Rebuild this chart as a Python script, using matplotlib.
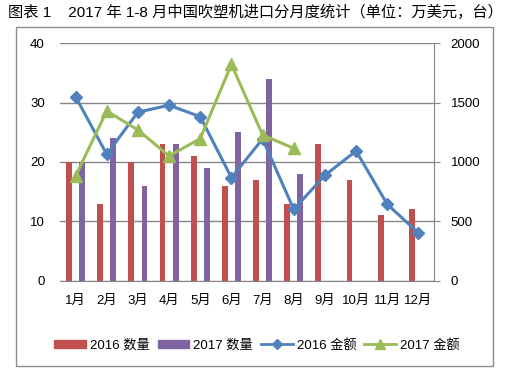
import matplotlib
matplotlib.use("Agg")
import matplotlib.pyplot as plt
from matplotlib.patches import Patch, Rectangle
from matplotlib.lines import Line2D
import numpy as np

plt.rcParams['font.family'] = ['Liberation Sans', 'Noto Sans CJK SC', 'DejaVu Sans']

months = ['1月', '2月', '3月', '4月', '5月', '6月', '7月', '8月', '9月', '10月', '11月', '12月']
qty_2016 = [20, 13, 20, 23, 21, 16, 17, 13, 23, 17, 11, 12]
qty_2017 = [20, 24, 16, 23, 19, 25, 34, 18]
amt_2016 = [1550, 1065, 1420, 1478, 1382, 868, 1194, 601, 888, 1093, 644, 402]
amt_2017 = [882, 1430, 1270, 1051, 1197, 1823, 1228, 1115]

title = '图表 1    2017 年 1-8 月中国吹塑机进口分月度统计（单位：万美元，台）'

C_RED = '#C0504D'
C_PUR = '#8064A2'
C_BLU = '#4F81BD'
C_GRN = '#9BBB59'
C_GRID = '#868686'

fig = plt.figure(figsize=(5.09, 3.75), dpi=100)
ax = fig.add_axes([60/509, 1-280.7/375, (434-60)/509, (280.7-43.3)/375])

x = np.arange(len(months))
bw = 0.19
off = 0.21
ax.bar(x - off, qty_2016, width=bw, color=C_RED, zorder=2)
ax.bar(np.arange(len(qty_2017)) + off, qty_2017, width=bw, color=C_PUR, zorder=2)
ax.set_ylim(0, 40)
ax.set_yticks([0, 10, 20, 30, 40])
ax.set_xlim(-0.5, len(months) - 0.5)
ax.set_xticks(x)
ax.set_xticklabels(months)
ax.grid(axis='y', color=C_GRID, linewidth=1, zorder=0)
ax.set_axisbelow(True)
for s in ['left', 'top', 'right']:
    ax.spines[s].set_visible(False)
ax.spines['bottom'].set_color(C_GRID)
ax.tick_params(axis='y', length=0, pad=11, labelsize=9.5)
ax.tick_params(axis='x', length=0, pad=10, labelsize=9.5)

ax2 = ax.twinx()
ax2.plot(x, amt_2016, color=C_BLU, linewidth=2.2, marker='D', markersize=6, zorder=3)
ax2.plot(np.arange(len(amt_2017)), amt_2017, color=C_GRN, linewidth=2.2, marker='^', markersize=8, zorder=3)
ax2.set_ylim(0, 2000)
ax2.set_yticks([0, 500, 1000, 1500, 2000])
for s in ['left', 'top', 'bottom']:
    ax2.spines[s].set_visible(False)
ax2.spines['right'].set_color(C_GRID)
ax2.tick_params(axis='y', length=4, color=C_GRID, pad=8, labelsize=9.5)

handles = [
    Patch(color=C_RED, label='2016 数量'),
    Patch(color=C_PUR, label='2017 数量'),
    Line2D([], [], color=C_BLU, marker='D', markersize=5, linewidth=2, label='2016 金额'),
    Line2D([], [], color=C_GRN, marker='^', markersize=7, linewidth=2, label='2017 金额'),
]
fig.legend(handles=handles, loc='center', bbox_to_anchor=(0.505, 1-345/375), ncol=4,
           frameon=False, fontsize=9.5, handlelength=2.4, handleheight=0.5,
           handletextpad=0.3, columnspacing=0.6)

fig.text(8/509, 1-12/375, title, fontsize=11, va='center', ha='left')

fig.patches.append(Rectangle((16/509, 1-366/375), 477/509, (366-27)/375,
                             transform=fig.transFigure, fill=False,
                             edgecolor='#8C8C8C', linewidth=1))

fig.savefig('out.png', dpi=100)
